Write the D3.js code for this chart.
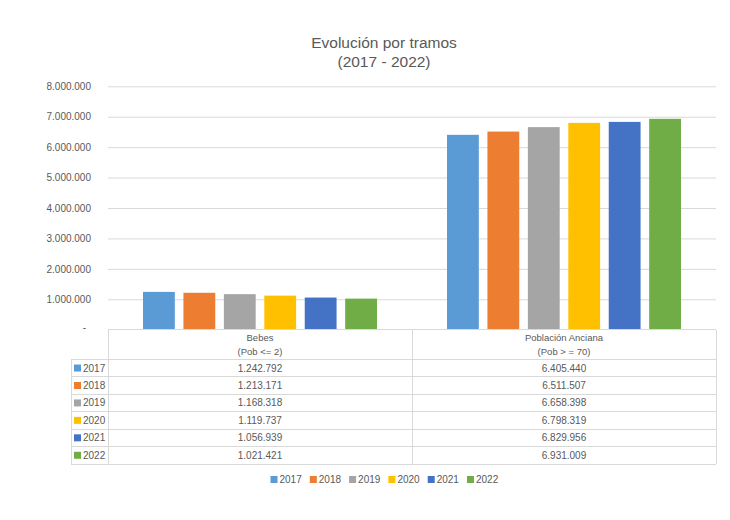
<!DOCTYPE html>
<html><head><meta charset="utf-8">
<script src="https://cdn.jsdelivr.net/npm/d3@7"></script>
<style>body{margin:0;background:#fff;} svg{display:block;font-family:"Liberation Sans",Arial,sans-serif;}</style>
</head><body>
<svg id="c" width="730" height="520"></svg>
<script>
const categories = ["Bebes\n(Pob <= 2)", "Población Anciana\n(Pob > = 70)"];
const years = ["2017","2018","2019","2020","2021","2022"];
const bebes = [1242792,1213171,1168318,1119737,1056939,1021421];
const anciana = [6405440,6511507,6658398,6798319,6829956,6931009];
const yTicks = [0,1000000,2000000,3000000,4000000,5000000,6000000,7000000,8000000];
const colors = ["#5B9BD5","#ED7D31","#A5A5A5","#FFC000","#4472C4","#70AD47"];

const series = [bebes, anciana];
const svg = d3.select("#c");
const fmt = v => v === 0 ? "-" : d3.format(",")(v).replace(/,/g, ".");
const txt = "#595959", grid = "#D9D9D9";

const L = 108, R = 716, T = 86.3, B = 329.7;
const x0 = d3.scaleBand().domain(d3.range(categories.length)).range([L, R]);
const x1 = d3.scaleBand().domain(years).range([35, x0.bandwidth() - 35]).paddingInner(0.213).paddingOuter(0);
const y = d3.scaleLinear().domain([0, 8000000]).range([B, T]);

// title
svg.append("text").attr("x", 384).attr("y", 48).attr("text-anchor", "middle").attr("fill", txt).attr("font-size", 15.5).text("Evolución por tramos");
svg.append("text").attr("x", 384).attr("y", 67).attr("text-anchor", "middle").attr("fill", txt).attr("font-size", 15.5).text("(2017 - 2022)");

// grid
const yAxis = d3.axisLeft(y).tickValues(yTicks).tickSize(-(R - L)).tickFormat(fmt).tickPadding(17);
const ga = svg.append("g").attr("transform", `translate(${L},0)`).call(yAxis);
ga.select(".domain").remove();
ga.selectAll(".tick line").attr("stroke", grid).attr("stroke-width", 1);
ga.selectAll(".tick text").attr("fill", txt).attr("font-size", 10).attr("font-family", "Liberation Sans, Arial, sans-serif");
ga.selectAll(".tick").filter(d => d === 0).select("line").remove();
ga.selectAll(".tick").filter(d => d === 0).select("text").attr("dx", -5).attr("dy", "0.1em");

// bars
const g = svg.append("g");
categories.forEach((c, ci) => {
  g.selectAll(null).data(series[ci]).enter().append("rect")
    .attr("x", (d, i) => x0(ci) + x1(years[i]))
    .attr("width", x1.bandwidth())
    .attr("y", d => y(d))
    .attr("height", d => y(0) - y(d))
    .attr("fill", (d, i) => colors[i]);
});

// data table
const rowH = 17.45, headB = 359.3;
const tableBottom = headB + rowH * years.length;
const KL = 71;
const lines = svg.append("g").attr("stroke", grid).attr("stroke-width", 1).attr("shape-rendering", "crispEdges");
lines.append("line").attr("x1", L).attr("x2", R).attr("y1", B).attr("y2", B);
[L, ...d3.range(categories.length).map(i => x0(i) + x0.bandwidth())].forEach(xx => {
  lines.append("line").attr("x1", xx).attr("x2", xx).attr("y1", B).attr("y2", tableBottom);
});
lines.append("line").attr("x1", KL).attr("x2", KL).attr("y1", headB).attr("y2", tableBottom);
d3.range(years.length + 1).forEach(r => {
  const yy = headB + r * rowH;
  lines.append("line").attr("x1", KL).attr("x2", R).attr("y1", yy).attr("y2", yy);
});

categories.forEach((c, ci) => {
  const cx = x0(ci) + x0.bandwidth() / 2;
  c.split("\n").forEach((ln, li) => {
    svg.append("text").attr("x", cx).attr("y", 341 + li * 14).attr("text-anchor", "middle")
      .attr("fill", txt).attr("font-size", 9.5).text(ln);
  });
  series[ci].forEach((v, r) => {
    svg.append("text").attr("x", cx).attr("y", headB + r * rowH + rowH / 2 + 3.5).attr("text-anchor", "middle")
      .attr("fill", txt).attr("font-size", 10).text(fmt(v));
  });
});
years.forEach((yr, r) => {
  const cy = headB + r * rowH + rowH / 2;
  svg.append("rect").attr("x", 74).attr("y", cy - 3.5).attr("width", 7).attr("height", 7).attr("fill", colors[r]);
  svg.append("text").attr("x", 83).attr("y", cy + 3.5).attr("fill", txt).attr("font-size", 10).text(yr);
});

// legend
const lg = svg.append("g");
years.forEach((yr, i) => {
  const lx = 270.5 + i * 39.3;
  lg.append("rect").attr("x", lx).attr("y", 476).attr("width", 7).attr("height", 7).attr("fill", colors[i]);
  lg.append("text").attr("x", lx + 9).attr("y", 483).attr("fill", txt).attr("font-size", 10).text(yr);
});
</script>
</body></html>
